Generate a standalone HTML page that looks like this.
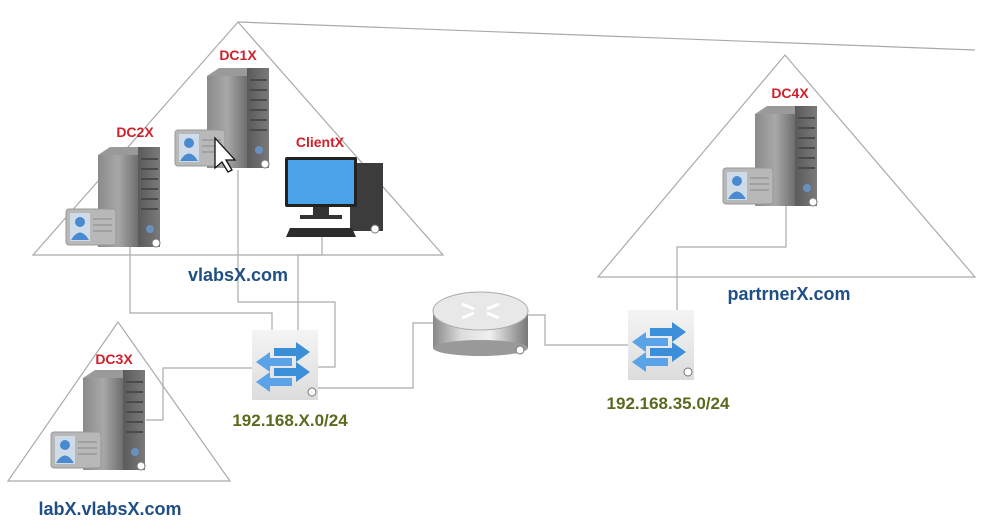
<!DOCTYPE html>
<html><head><meta charset="utf-8"><style>
html,body{margin:0;padding:0;background:#fff;}
svg{display:block;}
text{font-family:"Liberation Sans",Arial,sans-serif;font-weight:bold;}
</style></head><body>
<svg width="1000" height="530" viewBox="0 0 1000 530" xmlns="http://www.w3.org/2000/svg">
<defs>
<linearGradient id="srv" x1="0" x2="1" y1="0" y2="0"><stop offset="0" stop-color="#8a8a8a"/><stop offset="0.5" stop-color="#a8a8a8"/><stop offset="1" stop-color="#6e6e6e"/></linearGradient>
<linearGradient id="srvf" x1="0" x2="1"><stop offset="0" stop-color="#5a5a5a"/><stop offset="1" stop-color="#7a7a7a"/></linearGradient>
<linearGradient id="rt" x1="0" x2="1"><stop offset="0" stop-color="#888"/><stop offset="0.3" stop-color="#ddd"/><stop offset="0.6" stop-color="#f0f0f0"/><stop offset="1" stop-color="#777"/></linearGradient>
<linearGradient id="sw" x1="0" y1="0" x2="0" y2="1"><stop offset="0" stop-color="#f4f4f4"/><stop offset="1" stop-color="#dcdcdc"/></linearGradient>
<g id="server">
<rect x="0" y="8" width="40" height="92" fill="url(#srv)"/>
<polygon points="0,8 12,0 60,0 40,8" fill="#9a9a9a"/>
<rect x="40" y="0" width="22" height="100" fill="url(#srvf)"/>
<g stroke="#4a4a4a" stroke-width="2"><line x1="43" y1="12" x2="60" y2="12"/><line x1="43" y1="22" x2="60" y2="22"/><line x1="43" y1="32" x2="60" y2="32"/><line x1="43" y1="42" x2="60" y2="42"/><line x1="43" y1="52" x2="60" y2="52"/><line x1="43" y1="62" x2="60" y2="62"/></g>
<circle cx="52" cy="82" r="4" fill="#6a90c0"/>
<circle cx="58" cy="96" r="4" fill="#fff" stroke="#777"/>
<rect x="-32" y="62" width="50" height="36" rx="3" fill="#b8b8b8" stroke="#999"/>
<rect x="-28" y="66" width="20" height="28" fill="#cfdbe8"/>
<circle cx="-18" cy="75" r="5" fill="#4a8ad0"/>
<path d="M-27,93 Q-18,78 -9,93Z" fill="#4a8ad0"/>
<g stroke="#999" stroke-width="1.5"><line x1="-5" y1="72" x2="14" y2="72"/><line x1="-5" y1="78" x2="14" y2="78"/><line x1="-5" y1="84" x2="14" y2="84"/></g>
</g>
<g id="switch">
<rect x="0" y="0" width="66" height="70" fill="url(#sw)"/>
<path d="M22,18 h22 v-6 l14,10 -14,10 v-6 h-22z M22,38 h22 v-6 l14,10 -14,10 v-6 h-22z" fill="#3b8fd8"/>
<path d="M40,28 h-22 v-6 l-14,10 14,10 v-6 h22z M40,48 h-22 v-6 l-14,10 14,10 v-6 h22z" fill="#5aa3e8"/>
<circle cx="60" cy="62" r="4" fill="#fff" stroke="#777"/>
</g>
</defs>
<g fill="none" stroke="#aaa" stroke-width="1.2">
<polygon points="238,22 33,255 443,255"/>
<line x1="238" y1="22" x2="975" y2="50"/>
<polygon points="785,55 598,277 975,277"/>
<polygon points="118,322 8,481 230,481"/>
<polyline points="130,245 130,313 272,313 272,330"/>
<polyline points="238,170 238,302 335,302 335,367 318,367"/>
<polyline points="322,232 322,255 298,255 298,330"/>
<polyline points="146,420 163,420 163,368 252,368"/>
<polyline points="318,388 413,388 413,323 433,323"/>
<polyline points="527,315 545,315 545,345 630,345"/>
<polyline points="677,320 677,247 786,247 786,205"/>
</g>
<use href="#server" x="207" y="68"/>
<use href="#server" x="98" y="147"/>
<use href="#server" x="83" y="370"/>
<use href="#server" x="755" y="106"/>
<path d="M215,138 v30 l7,-6 6,10 4,-2 -6,-10 9,0z" fill="#fff" stroke="#111" stroke-width="1.3"/>
<rect x="350" y="163" width="33" height="68" fill="#3c3c3c"/>
<rect x="285" y="157" width="72" height="50" rx="2" fill="#222"/>
<rect x="288" y="160" width="66" height="44" fill="#4aa3e6"/>
<rect x="313" y="207" width="16" height="10" fill="#333"/>
<rect x="300" y="215" width="42" height="4" fill="#333"/>
<polygon points="290,228 352,228 356,237 286,237" fill="#2c2c2c"/>
<circle cx="375" cy="229" r="4" fill="#fff" stroke="#777"/>
<rect x="433" y="312" width="95" height="36" fill="url(#rt)"/>
<ellipse cx="480.5" cy="348" rx="47.5" ry="8" fill="#999"/>
<ellipse cx="480.5" cy="311" rx="47.5" ry="19" fill="#e8e8e8" stroke="#aaa"/>
<path d="M462,304 l12,5 M499,304 l-12,5 M462,318 l12,-5 M499,318 l-12,-5" stroke="#fff" stroke-width="3"/>
<circle cx="520" cy="350" r="4" fill="#fff" stroke="#777"/>
<use href="#switch" x="252" y="330"/>
<use href="#switch" x="628" y="310"/>
<g fill="#d0202a" font-size="14">
<text x="238" y="60" text-anchor="middle">DC1X</text>
<text x="135" y="137" text-anchor="middle">DC2X</text>
<text x="320" y="147" text-anchor="middle">ClientX</text>
<text x="790" y="98" text-anchor="middle">DC4X</text>
<text x="114" y="364" text-anchor="middle">DC3X</text>
</g>
<g fill="#1f4f85" font-size="18">
<text x="238" y="281" text-anchor="middle">vlabsX.com</text>
<text x="789" y="300" text-anchor="middle">partrnerX.com</text>
<text x="110" y="515" text-anchor="middle">labX.vlabsX.com</text>
</g>
<g fill="#5a6a1e" font-size="17">
<text x="290" y="426" text-anchor="middle">192.168.X.0/24</text>
<text x="668" y="409" text-anchor="middle">192.168.35.0/24</text>
</g>
</svg>
</body></html>
